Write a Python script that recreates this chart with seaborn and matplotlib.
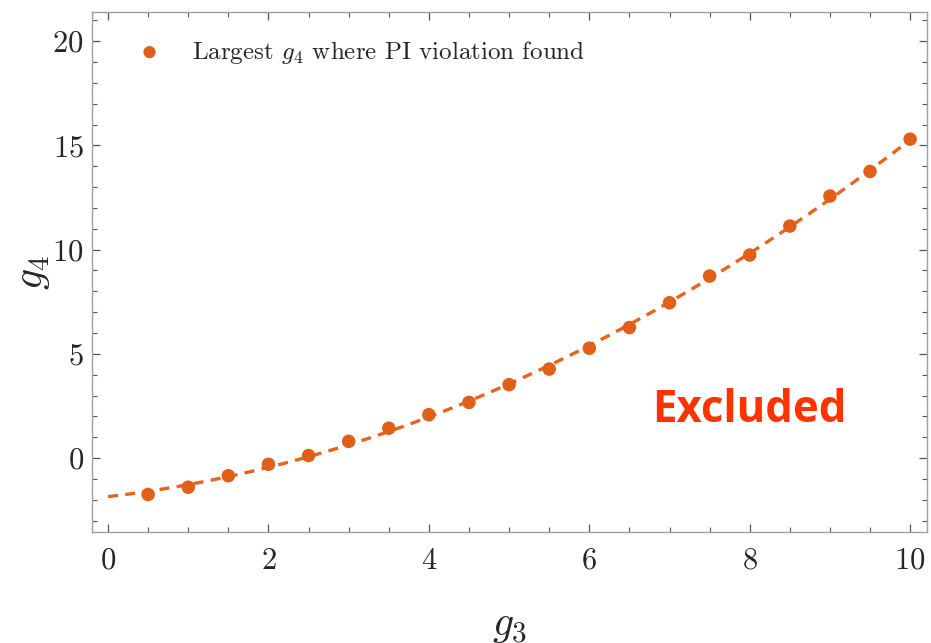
import numpy as np
import pandas as pd
import matplotlib
matplotlib.use("Agg")
import matplotlib.pyplot as plt
import seaborn as sns
from matplotlib.ticker import MultipleLocator

# values
g3 = [0.5, 1.0, 1.5, 2.0, 2.5, 3.0, 3.5, 4.0, 4.5, 5.0,
      5.5, 6.0, 6.5, 7.0, 7.5, 8.0, 8.5, 9.0, 9.5, 10.0]
g4 = [-1.75, -1.40, -0.85, -0.30, 0.12, 0.80, 1.43, 2.08, 2.67, 3.52,
      4.27, 5.27, 6.26, 7.45, 8.73, 9.74, 11.13, 12.57, 13.75, 15.30]

x_ticks = [0, 2, 4, 6, 8, 10]
y_ticks = [0, 5, 10, 15, 20]

orange = "#E0601A"
line_orange = "#E8641E"

sns.set_style("ticks")
plt.rcParams["font.family"] = ["cmr10", "DejaVu Serif"]
plt.rcParams["mathtext.fontset"] = "cm"
plt.rcParams["axes.formatter.use_mathtext"] = True

df = pd.DataFrame({"g3": g3, "g4": g4})

# quadratic fit through the points, drawn dashed over [0, 10]
coef = np.polyfit(df["g3"], df["g4"], 2)
xfit = np.linspace(0, 10, 200)
fit = pd.DataFrame({"g3": xfit, "g4": np.polyval(coef, xfit)})

fig = plt.figure(figsize=(9.31, 6.43), dpi=100)
ax = fig.add_axes([0.0988, 0.1726, 0.8969, 0.8087])

sns.lineplot(data=fit, x="g3", y="g4", ax=ax, color=line_orange,
             linestyle=(0, (3.0, 2.2)), linewidth=2.4, zorder=2)
sns.scatterplot(data=df, x="g3", y="g4", ax=ax, color=orange, s=95,
                edgecolor="none", zorder=3,
                label=r"Largest $g_4$ where PI violation found")

ax.set_xlim(-0.2, 10.21)
ax.set_ylim(-3.55, 21.4)
ax.set_xticks(x_ticks)
ax.set_yticks(y_ticks)
ax.xaxis.set_minor_locator(MultipleLocator(0.5))
ax.yaxis.set_minor_locator(MultipleLocator(1))
ax.tick_params(which="both", direction="in", top=True, right=True,
               color="#555555", labelsize=22)
ax.tick_params(axis="x", pad=11)
ax.tick_params(axis="y", pad=6)
ax.tick_params(which="major", length=6, width=0.9)
ax.tick_params(which="minor", length=3.5, width=0.8)
for sp in ax.spines.values():
    sp.set_color("#a0a0a0")
    sp.set_linewidth(1.0)

ax.set_xlabel(r"$g_3$", fontsize=30)
ax.set_ylabel(r"$g_4$", fontsize=30)
ax.xaxis.set_label_coords(0.5, -0.145)
ax.yaxis.set_label_coords(-0.048, 0.5)

ax.text(8.0, 2.3, "Excluded", color="#FF3300", fontsize=31.5,
        fontweight="bold", family="Open Sans", ha="center", va="center")

leg = ax.legend(loc="upper left", bbox_to_anchor=(0.027, 0.992),
                frameon=False, fontsize=18, handlelength=1.0,
                handletextpad=1.18, markerscale=0.9)

fig.savefig("out.png", dpi=100)
